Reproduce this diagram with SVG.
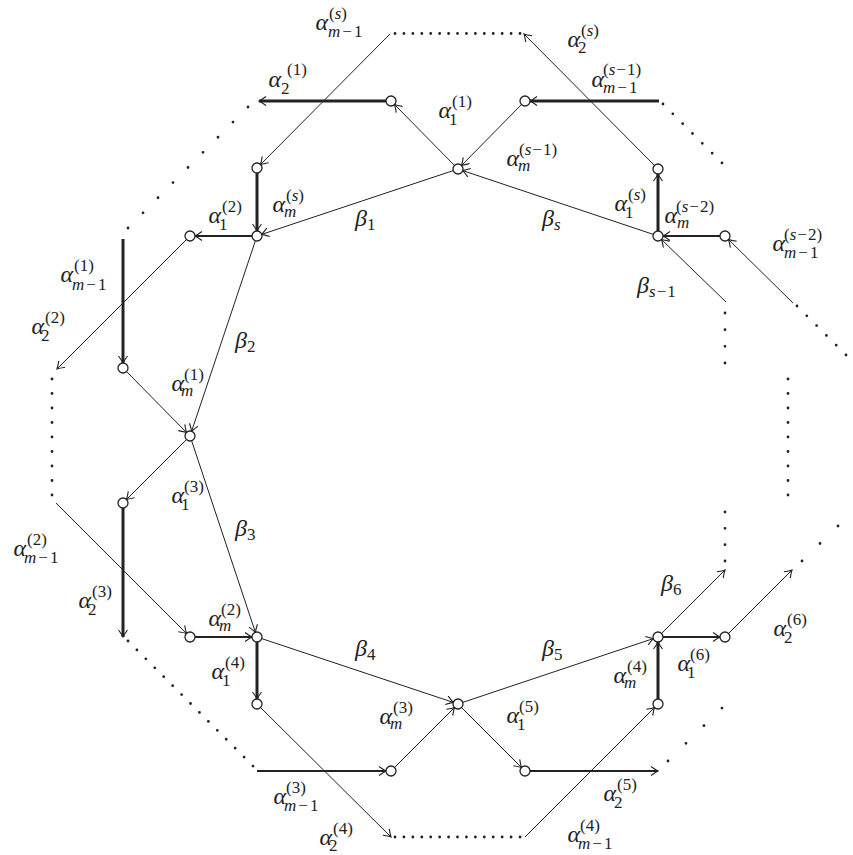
<svg xmlns="http://www.w3.org/2000/svg" width="853" height="855" viewBox="0 0 853 855">
<defs>
<style>
.e{stroke:#222;fill:none;stroke-width:1;marker-end:url(#ah)}
.m{stroke-width:2.2}
.k{stroke-width:3}
.d{stroke:#222;fill:none;stroke-width:2.8;stroke-linecap:round}
.n circle{fill:#fff;stroke:#222;stroke-width:1.3}
.g{font-style:italic;font-size:24px;text-anchor:end;fill:#222}
.s{font-size:17px;fill:#222}
.i{font-style:italic}
</style>
<marker id="ah" viewBox="-8 -5 9 10" refX="0" refY="0" markerWidth="9" markerHeight="10" markerUnits="userSpaceOnUse" orient="auto">
<path d="M-7,-4.5 Q-2.5,-1.2 0,0 Q-2.5,1.2 -7,4.5" fill="none" stroke="#222" stroke-width="1.1"/>
</marker>
</defs>
<rect width="853" height="855" fill="#fff"/>

<g id="dots">
<line class="d" x1="395" y1="33.5" x2="520.3" y2="33.5" stroke-dasharray="0 8.93"/>
<line class="d" x1="395" y1="837" x2="520.3" y2="837" stroke-dasharray="0 8.93"/>
<line class="d" x1="248" y1="107" x2="127.8" y2="228.2" stroke-dasharray="0 21.3"/>
<line class="d" x1="663" y1="104" x2="722.2" y2="163.2" stroke-dasharray="0 13.9"/>
<line class="d" x1="797" y1="306" x2="846.2" y2="355.2" stroke-dasharray="0 13.86"/>
<line class="d" x1="725" y1="313" x2="725" y2="363.3" stroke-dasharray="0 16.67"/>
<line class="d" x1="788" y1="379" x2="788" y2="495.3" stroke-dasharray="0 14.5"/>
<line class="d" x1="725" y1="512" x2="725" y2="561.3" stroke-dasharray="0 16.33"/>
<line class="d" x1="838" y1="526" x2="801.8" y2="561.2" stroke-dasharray="0 25.1"/>
<line class="d" x1="52" y1="379" x2="52" y2="495.3" stroke-dasharray="0 14.5"/>
<line class="d" x1="128" y1="641" x2="253.2" y2="766.2" stroke-dasharray="0 12.63"/>
<line class="d" x1="668" y1="761" x2="722.2" y2="707.8" stroke-dasharray="0 25.2"/>
</g>

<g id="connectors">
<line class="e" x1="454.5" y1="165.5" x2="394.5" y2="104.5"/>
<line class="e k" x1="386" y1="101" x2="259" y2="101"/>
<line class="e" x1="390" y1="34" x2="260.5" y2="164.5"/>
<line class="e" x1="654.5" y1="165.5" x2="524" y2="34"/>
<line class="e k" x1="659" y1="101" x2="530" y2="101"/>
<line class="e" x1="521.5" y1="104.5" x2="461.5" y2="165.5"/>
<line class="e k" x1="658" y1="231" x2="658" y2="174"/>
<line class="e" x1="653.3" y1="234.4" x2="462.7" y2="170.6"/>
<line class="e m" x1="720" y1="236" x2="663" y2="236"/>
<line class="e" x1="726" y1="302" x2="661.5" y2="239.5"/>
<line class="e" x1="793" y1="303" x2="728.5" y2="239.5"/>
<line class="e" x1="453.3" y1="170.6" x2="261.7" y2="234.4"/>
<line class="e k" x1="257" y1="173" x2="257" y2="231"/>
<line class="e m" x1="252" y1="236" x2="195" y2="236"/>
<line class="e" x1="186.5" y1="239.5" x2="57" y2="369"/>
<line class="e k" x1="123" y1="239" x2="123" y2="363"/>
<line class="e" x1="126.5" y1="371.5" x2="186.5" y2="432.5"/>
<line class="e" x1="255.4" y1="240.7" x2="191.6" y2="431.3"/>
<line class="e" x1="186.5" y1="439.5" x2="126.5" y2="499.5"/>
<line class="e" x1="191.6" y1="440.7" x2="255.4" y2="632.3"/>
<line class="e" x1="56" y1="503" x2="186.5" y2="633.5"/>
<line class="e k" x1="123" y1="508" x2="123" y2="637"/>
<line class="e m" x1="195" y1="637" x2="252" y2="637"/>
<line class="e k" x1="257" y1="642" x2="257" y2="699"/>
<line class="e" x1="261.7" y1="638.6" x2="453.3" y2="702.4"/>
<line class="e m" x1="257" y1="771" x2="386" y2="771"/>
<line class="e" x1="394.5" y1="767.5" x2="454.5" y2="707.5"/>
<line class="e" x1="260.5" y1="707.5" x2="391" y2="837"/>
<line class="e" x1="461.5" y1="707.5" x2="521.5" y2="767.5"/>
<line class="e m" x1="530" y1="771" x2="658" y2="771"/>
<line class="e" x1="462.7" y1="702.4" x2="653.3" y2="638.6"/>
<line class="e" x1="525" y1="837" x2="654.5" y2="707.5"/>
<line class="e k" x1="658" y1="699" x2="658" y2="642"/>
<line class="e m" x1="663" y1="637" x2="720" y2="637"/>
<line class="e" x1="661.5" y1="633.5" x2="725" y2="570"/>
<line class="e" x1="728.5" y1="633.5" x2="792" y2="570"/>
</g>

<g id="nodes" class="n">
<g id="n-391-101"><circle cx="391" cy="101" r="5"/></g>
<g id="n-525-101"><circle cx="525" cy="101" r="5"/></g>
<g id="n-458-169"><circle cx="458" cy="169" r="5"/></g>
<g id="n-257-168"><circle cx="257" cy="168" r="5"/></g>
<g id="n-658-169"><circle cx="658" cy="169" r="5"/></g>
<g id="n-190-236"><circle cx="190" cy="236" r="5"/></g>
<g id="n-257-236"><circle cx="257" cy="236" r="5"/></g>
<g id="n-658-236"><circle cx="658" cy="236" r="5"/></g>
<g id="n-725-236"><circle cx="725" cy="236" r="5"/></g>
<g id="n-123-368"><circle cx="123" cy="368" r="5"/></g>
<g id="n-190-436"><circle cx="190" cy="436" r="5"/></g>
<g id="n-123-503"><circle cx="123" cy="503" r="5"/></g>
<g id="n-190-637"><circle cx="190" cy="637" r="5"/></g>
<g id="n-257-637"><circle cx="257" cy="637" r="5"/></g>
<g id="n-658-637"><circle cx="658" cy="637" r="5"/></g>
<g id="n-725-637"><circle cx="725" cy="637" r="5"/></g>
<g id="n-257-704"><circle cx="257" cy="704" r="5"/></g>
<g id="n-458-704"><circle cx="458" cy="704" r="5"/></g>
<g id="n-658-704"><circle cx="658" cy="704" r="5"/></g>
<g id="n-391-771"><circle cx="391" cy="771" r="5"/></g>
<g id="n-525-771"><circle cx="525" cy="771" r="5"/></g>
</g>

<g id="labels" font-family="'Liberation Serif', 'DejaVu Serif', serif">
<text class="g" x="328" y="30">α</text><text class="s" x="329" y="19">(<tspan class="i">s</tspan>)</text><text class="s" x="328" y="37"><tspan class="i">m</tspan><tspan dx="2">−</tspan><tspan dx="2">1</tspan></text>
<text class="g" x="281" y="87">α</text><text class="s" x="287" y="75">(1)</text><text class="s" x="281" y="94">2</text>
<text class="g" x="221" y="223">α</text><text class="s" x="222" y="212">(2)</text><text class="s" x="219" y="230">1</text>
<text class="g" x="285" y="212">α</text><text class="s" x="286" y="201">(<tspan class="i">s</tspan>)</text><text class="s" x="284" y="217"><tspan class="i">m</tspan></text>
<text class="g" x="73" y="282">α</text><text class="s" x="74" y="271">(1)</text><text class="s" x="72" y="290"><tspan class="i">m</tspan><tspan dx="2">−</tspan><tspan dx="2">1</tspan></text>
<text class="g" x="580" y="47">α</text><text class="s" x="581" y="36">(<tspan class="i">s</tspan>)</text><text class="s" x="578" y="53">2</text>
<text class="g" x="604" y="87">α</text><text class="s" x="603" y="75">(<tspan class="i">s</tspan><tspan dx="1">−</tspan><tspan dx="1">1)</tspan></text><text class="s" x="603" y="93"><tspan class="i">m</tspan><tspan dx="2">−</tspan><tspan dx="2">1</tspan></text>
<text class="g" x="451" y="118">α</text><text class="s" x="452" y="107">(1)</text><text class="s" x="449" y="125">1</text>
<text class="g" x="519" y="166">α</text><text class="s" x="519" y="155">(<tspan class="i">s</tspan><tspan dx="1">−</tspan><tspan dx="1">1)</tspan></text><text class="s" x="518" y="171"><tspan class="i">m</tspan></text>
<text class="g" x="627" y="211">α</text><text class="s" x="628" y="200">(<tspan class="i">s</tspan>)</text><text class="s" x="625" y="218">1</text>
<text class="g" x="677" y="223">α</text><text class="s" x="676" y="212">(<tspan class="i">s</tspan><tspan dx="1">−</tspan><tspan dx="1">2)</tspan></text><text class="s" x="677" y="228"><tspan class="i">m</tspan></text>
<text class="g" x="785" y="251">α</text><text class="s" x="784" y="240">(<tspan class="i">s</tspan><tspan dx="1">−</tspan><tspan dx="1">2)</tspan></text><text class="s" x="784" y="258"><tspan class="i">m</tspan><tspan dx="2">−</tspan><tspan dx="2">1</tspan></text>
<text class="g" x="44" y="334">α</text><text class="s" x="45" y="323">(2)</text><text class="s" x="41" y="341">2</text>
<text class="g" x="184" y="391">α</text><text class="s" x="184" y="380">(1)</text><text class="s" x="181" y="396"><tspan class="i">m</tspan></text>
<text class="g" x="184" y="503">α</text><text class="s" x="184" y="492">(3)</text><text class="s" x="181" y="510">1</text>
<text class="g" x="26" y="556">α</text><text class="s" x="27" y="545">(2)</text><text class="s" x="24" y="563"><tspan class="i">m</tspan><tspan dx="2">−</tspan><tspan dx="2">1</tspan></text>
<text class="g" x="91" y="608">α</text><text class="s" x="92" y="597">(3)</text><text class="s" x="88" y="615">2</text>
<text class="g" x="221" y="626">α</text><text class="s" x="221" y="615">(2)</text><text class="s" x="219" y="631"><tspan class="i">m</tspan></text>
<text class="g" x="224" y="679">α</text><text class="s" x="225" y="668">(4)</text><text class="s" x="222" y="686">1</text>
<text class="g" x="392" y="724">α</text><text class="s" x="393" y="713">(3)</text><text class="s" x="390" y="729"><tspan class="i">m</tspan></text>
<text class="g" x="286" y="804">α</text><text class="s" x="286" y="793">(3)</text><text class="s" x="284" y="811"><tspan class="i">m</tspan><tspan dx="2">−</tspan><tspan dx="2">1</tspan></text>
<text class="g" x="332" y="845">α</text><text class="s" x="333" y="834">(4)</text><text class="s" x="329" y="851">2</text>
<text class="g" x="786" y="636">α</text><text class="s" x="787" y="625">(6)</text><text class="s" x="784" y="643">2</text>
<text class="g" x="626" y="683">α</text><text class="s" x="627" y="672">(4)</text><text class="s" x="624" y="688"><tspan class="i">m</tspan></text>
<text class="g" x="690" y="671">α</text><text class="s" x="690" y="660">(6)</text><text class="s" x="687" y="678">1</text>
<text class="g" x="519" y="723">α</text><text class="s" x="519" y="712">(5)</text><text class="s" x="517" y="730">1</text>
<text class="g" x="616" y="801">α</text><text class="s" x="617" y="790">(5)</text><text class="s" x="614" y="808">2</text>
<text class="g" x="580" y="842">α</text><text class="s" x="580" y="831">(4)</text><text class="s" x="578" y="849"><tspan class="i">m</tspan><tspan dx="2">−</tspan><tspan dx="2">1</tspan></text>
<text class="g" x="367" y="226">β</text><text class="s" x="367" y="230">1</text>
<text class="g" x="554" y="226">β</text><text class="s i" x="554" y="230">s</text>
<text class="g" x="649" y="293">β</text><text class="s" x="649" y="297"><tspan class="i">s</tspan><tspan dx="1">−</tspan><tspan dx="1">1</tspan></text>
<text class="g" x="247" y="348">β</text><text class="s" x="247" y="352">2</text>
<text class="g" x="247" y="536">β</text><text class="s" x="247" y="540">3</text>
<text class="g" x="367" y="656">β</text><text class="s" x="367" y="660">4</text>
<text class="g" x="554" y="656">β</text><text class="s" x="554" y="660">5</text>
<text class="g" x="673" y="591">β</text><text class="s" x="673" y="595">6</text>
</g>
</svg>
